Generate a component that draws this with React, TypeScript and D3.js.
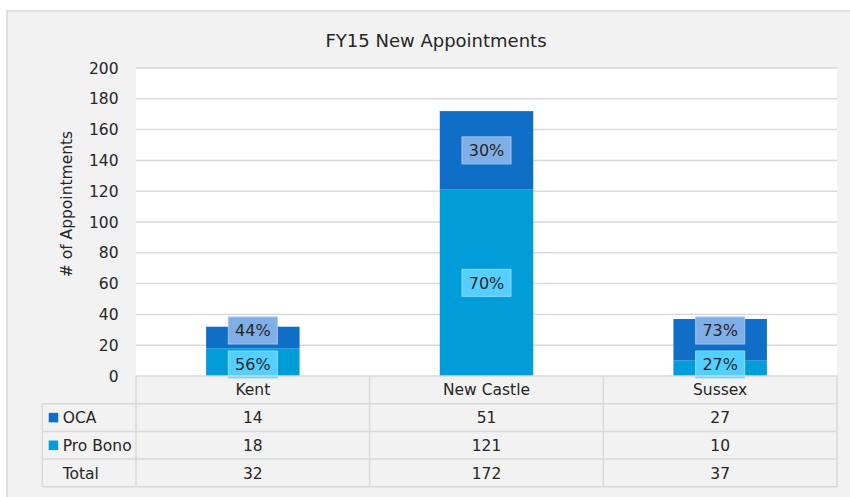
import React from "react";
import * as d3 from "d3";

const categories = ["Kent", "New Castle", "Sussex"];
const ocaValues = [14, 51, 27];
const proBonoValues = [18, 121, 10];
const yTicks = [0, 20, 40, 60, 80, 100, 120, 140, 160, 180, 200];
const seriesNames = ["OCA", "Pro Bono"];
const title = "FY15 New Appointments";
const yTitle = "# of Appointments";

const W = 850;
const H = 497;
const FONT = "'DejaVu Sans', sans-serif";
const TXT = "#262626";
const GRID = "#d9d9d9";
const C_OCA = "#0f6fc6";
const C_PB = "#009dd9";
const L_OCA = "#80aee6";
const L_OCA_B = "#a3c5ee";
const L_PB = "#55cfff";
const L_PB_B = "#8adfff";

export default function App() {
  const plotLeft = 136;
  const plotRight = 837;
  const plotTop = 68;
  const plotBottom = 376;
  const legendLeft = 42.3;
  const rowH = 27.7;

  const x = d3.scaleBand<string>().domain(categories).range([plotLeft, plotRight]).padding(0);
  const y = d3.scaleLinear().domain([0, 200]).range([plotBottom, plotTop]);
  const barW = x.bandwidth() * 0.4;

  const rows = categories.map((c, i) => ({ cat: c, "Pro Bono": proBonoValues[i], OCA: ocaValues[i] }));
  const stack = d3.stack<any>().keys(["Pro Bono", "OCA"]);
  const stacked = stack(rows);

  const boxW = 49;
  const boxH = 27;
  const minSep = 34;
  const maxLowCenter = plotBottom - boxH / 2 + 2;

  const labels: any[] = [];
  categories.forEach((c, i) => {
    const total = ocaValues[i] + proBonoValues[i];
    const pbSeg = stacked[0][i];
    const ocSeg = stacked[1][i];
    let low = (y(pbSeg[0]) + y(pbSeg[1])) / 2;
    let high = (y(ocSeg[0]) + y(ocSeg[1])) / 2;
    if (low - high < minSep) {
      const mid = (low + high) / 2;
      low = mid + minSep / 2;
      high = mid - minSep / 2;
    }
    if (low > maxLowCenter) low = maxLowCenter;
    if (low - high < minSep) high = low - minSep;
    const cx = (x(c) as number) + x.bandwidth() / 2;
    labels.push({ cx, cy: low, text: Math.round((proBonoValues[i] / total) * 100) + "%", fill: L_PB, stroke: L_PB_B });
    labels.push({ cx, cy: high, text: Math.round((ocaValues[i] / total) * 100) + "%", fill: L_OCA, stroke: L_OCA_B });
  });

  const tableRowsY = [plotBottom, plotBottom + rowH, plotBottom + rowH * 2, plotBottom + rowH * 3, plotBottom + rowH * 4];
  const tableData = [
    { name: seriesNames[0], color: C_OCA, values: ocaValues },
    { name: seriesNames[1], color: C_PB, values: proBonoValues },
    { name: "Total", color: null, values: categories.map((_, i) => ocaValues[i] + proBonoValues[i]) },
  ];
  const colEdges = [plotLeft, ...categories.map((c) => (x(c) as number) + x.bandwidth())];

  return (
    <svg width={W} height={H} style={{ position: "absolute", left: 0, top: 0, fontFamily: FONT }}>
      <rect x={0} y={0} width={W} height={H} fill="#ffffff" />
      <rect x={7} y={11} width={W + 20} height={H + 20} fill="#f2f2f2" stroke={GRID} strokeWidth={1.5} />
      <text x={436} y={47} textAnchor="middle" fontSize={18} fill={TXT}>{title}</text>

      <rect x={plotLeft} y={plotTop} width={plotRight - plotLeft} height={plotBottom - plotTop} fill="#ffffff" />
      {yTicks.map((t) => (
        <g key={t}>
          {t > 0 && <line x1={plotLeft} x2={plotRight} y1={y(t)} y2={y(t)} stroke={GRID} strokeWidth={1.5} />}
          <text x={118.5} y={y(t)} dy="0.36em" textAnchor="end" fontSize={15.5} fill={TXT}>{t}</text>
        </g>
      ))}
      <text transform={`translate(72,204) rotate(-90)`} textAnchor="middle" fontSize={15.5} fill={TXT}>{yTitle}</text>

      {stacked.map((s, si) => (
        <g key={s.key} fill={si === 0 ? C_PB : C_OCA}>
          {s.map((d, i) => (
            <rect key={i} x={(x(categories[i]) as number) + (x.bandwidth() - barW) / 2} y={y(d[1])} width={barW} height={y(d[0]) - y(d[1])} />
          ))}
        </g>
      ))}

      {labels.map((l, i) => (
        <g key={i}>
          <rect x={l.cx - boxW / 2} y={l.cy - boxH / 2} width={boxW} height={boxH} fill={l.fill} stroke={l.stroke} strokeWidth={1} />
          <text x={l.cx} y={l.cy} dy="0.36em" textAnchor="middle" fontSize={16} fill={TXT}>{l.text}</text>
        </g>
      ))}

      {/* data table */}
      <g stroke={GRID} strokeWidth={1.5} fill="none">
        <line x1={plotLeft} x2={plotRight} y1={tableRowsY[0]} y2={tableRowsY[0]} />
        {tableRowsY.slice(1).map((ty, i) => (
          <line key={i} x1={legendLeft} x2={plotRight} y1={ty} y2={ty} />
        ))}
        {colEdges.map((cx, i) => (
          <line key={i} x1={cx} x2={cx} y1={tableRowsY[0]} y2={tableRowsY[4]} />
        ))}
        <line x1={legendLeft} x2={legendLeft} y1={tableRowsY[1]} y2={tableRowsY[4]} />
      </g>
      {categories.map((c) => (
        <text key={c} x={(x(c) as number) + x.bandwidth() / 2} y={(tableRowsY[0] + tableRowsY[1]) / 2} dy="0.36em" textAnchor="middle" fontSize={15.5} fill={TXT}>{c}</text>
      ))}
      {tableData.map((r, ri) => {
        const cy = (tableRowsY[ri + 1] + tableRowsY[ri + 2]) / 2;
        return (
          <g key={r.name}>
            {r.color && <rect x={48.7} y={cy - 4.7} width={9.5} height={9.5} fill={r.color} />}
            <text x={62.7} y={cy} dy="0.36em" fontSize={15.5} fill={TXT}>{r.name}</text>
            {r.values.map((v, i) => (
              <text key={i} x={(x(categories[i]) as number) + x.bandwidth() / 2} y={cy} dy="0.36em" textAnchor="middle" fontSize={15.5} fill={TXT}>{v}</text>
            ))}
          </g>
        );
      })}
    </svg>
  );
}
